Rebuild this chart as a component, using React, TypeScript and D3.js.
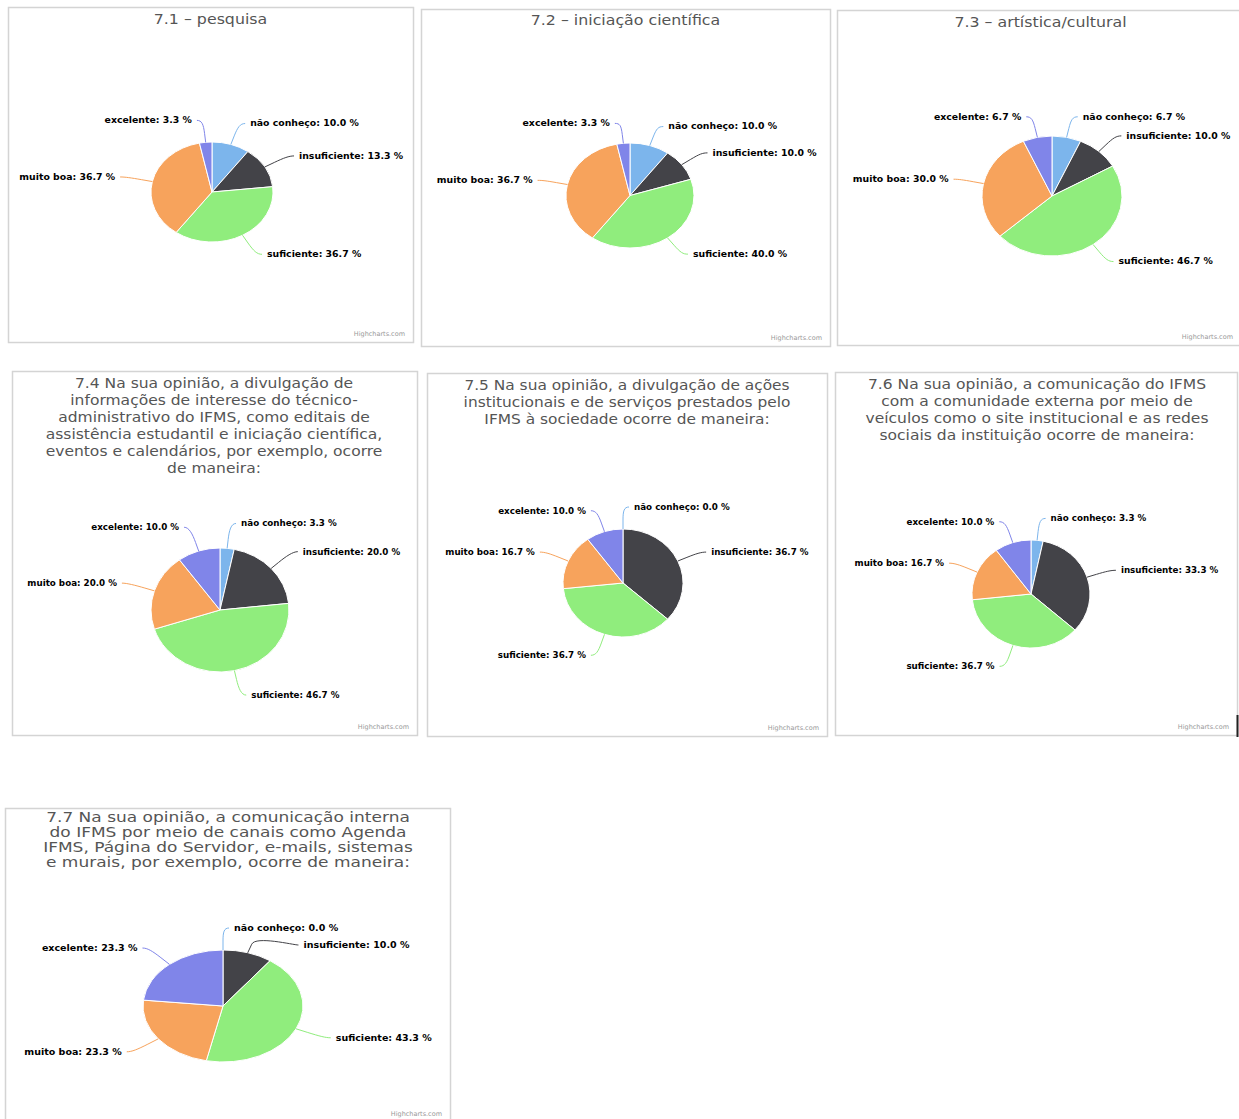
import React from "react";
import * as d3 from "d3";

// ---------- DATA ----------
const categories = ["não conheço", "insuficiente", "suficiente", "muito boa", "excelente"];
const colors = ["#7cb5ec", "#434348", "#90ed7d", "#f7a35c", "#8085e9"];

const values71 = [10.0, 13.3, 36.7, 36.7, 3.3];
const values72 = [10.0, 10.0, 40.0, 36.7, 3.3];
const values73 = [6.7, 10.0, 46.7, 30.0, 6.7];
const values74 = [3.3, 20.0, 46.7, 20.0, 10.0];
const values75 = [0.0, 36.7, 36.7, 16.7, 10.0];
const values76 = [3.3, 33.3, 36.7, 16.7, 10.0];
const values77 = [0.0, 10.0, 43.3, 23.3, 23.3];

const title71 = ["7.1 – pesquisa"];
const title72 = ["7.2 – iniciação científica"];
const title73 = ["7.3 – artística/cultural"];
const title74 = [
  "7.4 Na sua opinião, a divulgação de",
  "informações de interesse do técnico-",
  "administrativo do IFMS, como editais de",
  "assistência estudantil e iniciação científica,",
  "eventos e calendários, por exemplo, ocorre",
  "de maneira:",
];
const title75 = [
  "7.5 Na sua opinião, a divulgação de ações",
  "institucionais e de serviços prestados pelo",
  "IFMS à sociedade ocorre de maneira:",
];
const title76 = [
  "7.6 Na sua opinião, a comunicação do IFMS",
  "com a comunidade externa por meio de",
  "veículos como o site institucional e as redes",
  "sociais da instituição ocorre de maneira:",
];
const title77 = [
  "7.7 Na sua opinião, a comunicação interna",
  "do IFMS por meio de canais como Agenda",
  "IFMS, Página do Servidor, e-mails, sistemas",
  "e murais, por exemplo, ocorre de maneira:",
];

const credit = "Highcharts.com";

// ---------- LAYOUT ----------
type Panel = {
  values: number[];
  title: string[];
  box: { x: number; y: number; w: number; h: number };
  tx: number; ty: number; lh: number; tfs: number;
  cx: number; cy: number; rx: number; ry: number; ld: number; sx: number; lsx: number;
};

const panels: Panel[] = [
  { values: values71, title: title71, box: { x: 8, y: 7, w: 405, h: 335 }, tx: 210.5, ty: 19, lh: 17, tfs: 14, cx: 212, cy: 192, rx: 61, ry: 50, ld: 22, sx: 1.13, lsx: 1.1 },
  { values: values72, title: title72, box: { x: 421, y: 9, w: 409, h: 337 }, tx: 625.5, ty: 20, lh: 17, tfs: 14, cx: 630, cy: 195.5, rx: 64, ry: 52.5, ld: 20, sx: 1.13, lsx: 1.1 },
  { values: values73, title: title73, box: { x: 837, y: 10, w: 404, h: 335 }, tx: 1040.5, ty: 22, lh: 17, tfs: 14, cx: 1052, cy: 196, rx: 70, ry: 60, ld: 21, sx: 1.13, lsx: 1.1 },
  { values: values74, title: title74, box: { x: 12, y: 371, w: 405, h: 364 }, tx: 214, ty: 383, lh: 17, tfs: 14, cx: 220, cy: 610, rx: 69, ry: 62, ld: 25, sx: 1.11, lsx: 1.03 },
  { values: values75, title: title75, box: { x: 427, y: 373, w: 400, h: 363 }, tx: 627, ty: 385, lh: 17, tfs: 14, cx: 623, cy: 583, rx: 60, ry: 54, ld: 22, sx: 1.1, lsx: 1.03 },
  { values: values76, title: title76, box: { x: 835, y: 372, w: 402, h: 363 }, tx: 1037, ty: 384, lh: 17, tfs: 14, cx: 1031, cy: 594, rx: 59, ry: 54, ld: 22, sx: 1.11, lsx: 1.03 },
  { values: values77, title: title77, box: { x: 5, y: 808, w: 445, h: 330 }, tx: 228, ty: 818, lh: 15, tfs: 13.5, cx: 223, cy: 1006, rx: 80, ry: 56, ld: 22, sx: 1.26, lsx: 1.12 },
];

const FONT = "'DejaVu Sans', Verdana, sans-serif";

function PiePanel({ p }: { p: Panel }) {
  const pie = d3.pie<number>().sort(null).value((d) => d);
  const arcs = pie(p.values);
  const arc = d3.arc<d3.PieArcDatum<number>>().innerRadius(0).outerRadius(p.ry);
  const k = p.rx / p.ry;
  const Ry = p.ry + p.ld;
  const Rx = Ry * k;

  // label positions
  type L = { i: number; a: number; right: boolean; y: number; x: number };
  const labels: L[] = arcs.map((a, i) => {
    const mid = (a.startAngle + a.endAngle) / 2;
    return { i, a: mid, right: mid < Math.PI, y: p.cy - Ry * Math.cos(mid), x: 0 };
  });
  const minGap = 17;
  [true, false].forEach((side) => {
    const ls = labels.filter((l) => l.right === side).sort((a, b) => a.y - b.y);
    for (let j = 1; j < ls.length; j++) {
      if (ls[j].y - ls[j - 1].y < minGap) ls[j].y = ls[j - 1].y + minGap;
    }
  });
  labels.forEach((l) => {
    const t = Math.max(-1, Math.min(1, (l.y - p.cy) / Ry));
    const s = Math.sqrt(1 - t * t);
    l.x = p.cx + (l.right ? 1 : -1) * (6 + Rx * s);
  });

  return (
    <g>
      <rect x={p.box.x + 0.5} y={p.box.y + 0.5} width={p.box.w} height={p.box.h} fill="#fff" stroke="#d4d4d4" strokeWidth={1.5} />
      {p.title.map((line, i) => (
        <text
          key={i}
          transform={`translate(${p.tx},${p.ty + i * p.lh}) scale(${p.sx},1)`}
          textAnchor="middle"
          dominantBaseline="central"
          fontFamily={FONT}
          fontSize={p.tfs}
          fill="#555"
        >
          {line}
        </text>
      ))}
      <g transform={`translate(${p.cx},${p.cy}) scale(${k},1)`}>
        {arcs.map((a, i) => (
          <path key={i} d={arc(a) || ""} fill={colors[i]} stroke="#fff" strokeWidth={1} vectorEffect="non-scaling-stroke" />
        ))}
      </g>
      {labels.map((l) => {
        const ex = p.cx + p.rx * Math.sin(l.a);
        const ey = p.cy - p.ry * Math.cos(l.a);
        const mx = p.cx + (p.rx + 9 * k) * Math.sin(l.a);
        const my = p.cy - (p.ry + 9) * Math.cos(l.a);
        const dir = l.right ? 1 : -1;
        const path = `M${l.x},${l.y} C${l.x - dir * 5},${l.y} ${2 * mx - ex},${2 * my - ey} ${mx},${my} L${ex},${ey}`;
        return (
          <g key={l.i}>
            <path d={path} fill="none" stroke={colors[l.i]} strokeWidth={1} />
            <text
              transform={`translate(${l.x + dir * 5},${l.y}) scale(${p.lsx},1)`}
              textAnchor={l.right ? "start" : "end"}
              dominantBaseline="central"
              fontFamily={FONT}
              fontWeight="bold"
              fontSize={8.5}
              fill="#000"
            >
              {`${categories[l.i]}: ${p.values[l.i].toFixed(1)} %`}
            </text>
          </g>
        );
      })}
      <text
        x={p.box.x + p.box.w - 8}
        y={Math.min(p.box.y + p.box.h - 6, 1116)}
        textAnchor="end"
        fontFamily={FONT}
        fontSize={6.5}
        fill="#999"
      >
        {credit}
      </text>
    </g>
  );
}

export default function App() {
  return (
    <svg width={1239} height={1119} style={{ position: "absolute", left: 0, top: 0, background: "#fff" }}>
      <rect x={0} y={0} width={1239} height={1119} fill="#fff" />
      {panels.map((p, i) => (
        <PiePanel key={i} p={p} />
      ))}
      <line x1={1237.5} y1={715} x2={1237.5} y2={737} stroke="#222" strokeWidth={2} />
    </svg>
  );
}
